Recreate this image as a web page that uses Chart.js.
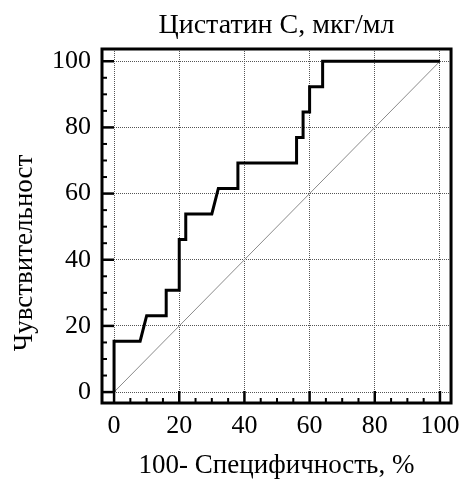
<!DOCTYPE html>
<html>
<head>
<meta charset="utf-8">
<script src="https://cdn.jsdelivr.net/npm/chart.js@4/dist/chart.umd.min.js"></script>
<style>
  html, body { margin: 0; padding: 0; background: #ffffff; }
  #wrap { width: 468px; height: 479px; }
</style>
</head>
<body>
<div id="wrap"><canvas id="c" width="468" height="479"></canvas></div>
<script>
// ---- data ----
const chartTitle = "Цистатин С, мкг/мл";
const xTitle = "100- Специфичность, %";
const yTitle = "Чувствительност";
// ROC curve vertices: 100 - specificity (%) and sensitivity (%)
const rocX = [0, 0, 8, 10, 16, 16, 20, 20, 22, 22, 30, 32, 38, 38, 56, 56, 58, 58, 60, 60, 64, 64, 100];
const rocY = [0, 15.38, 15.38, 23.08, 23.08, 30.77, 30.77, 46.15, 46.15, 53.85, 53.85, 61.54, 61.54, 69.23, 69.23, 76.92, 76.92, 84.62, 84.62, 92.31, 92.31, 100, 100];
// reference diagonal
const diagX = [0, 100];
const diagY = [0, 100];
// axis ticks
const majorTicks = [0, 20, 40, 60, 80, 100];
const minorStep = 5;

const FONT = "'Liberation Serif', 'Times New Roman', serif";
Chart.defaults.font.family = FONT;
Chart.defaults.color = '#000';

const toPts = (xs, ys) => xs.map((x, i) => ({ x: x, y: ys[i] }));

const framePlugin = {
  id: 'frameTicks',
  afterDatasetsDraw(chart) {
    const { ctx, chartArea: a, scales: { x, y } } = chart;
    ctx.save();
    ctx.strokeStyle = '#000';
    ctx.lineCap = 'butt';
    // inward ticks
    for (let v = 0; v <= 100; v += minorStep) {
      const major = majorTicks.includes(v);
      const len = major ? 12 : 5;
      ctx.lineWidth = major ? 2.5 : 2;
      const py = y.getPixelForValue(v);
      ctx.beginPath(); ctx.moveTo(a.left, py); ctx.lineTo(a.left + len, py); ctx.stroke();
      const px = x.getPixelForValue(v);
      ctx.beginPath(); ctx.moveTo(px, a.bottom); ctx.lineTo(px, a.bottom - len); ctx.stroke();
    }
    // frame
    ctx.lineWidth = 3;
    ctx.strokeRect(a.left, a.top, a.right - a.left, a.bottom - a.top);
    ctx.restore();
  }
};

new Chart(document.getElementById('c'), {
  type: 'line',
  data: {
    datasets: [
      {
        label: 'diag',
        data: toPts(diagX, diagY),
        borderColor: '#8a8a8a',
        borderWidth: 1,
        pointRadius: 0,
        fill: false,
        order: 2
      },
      {
        label: 'ROC',
        data: toPts(rocX, rocY),
        borderColor: '#000',
        borderWidth: 3,
        pointRadius: 0,
        fill: false,
        tension: 0,
        borderJoinStyle: 'miter',
        order: 1
      }
    ]
  },
  options: {
    responsive: false,
    animation: false,
    events: [],
    layout: { padding: { left: 0, right: 11, top: 0, bottom: 0 } },
    plugins: {
      legend: { display: false },
      tooltip: { enabled: false },
      title: {
        display: true,
        fullSize: false,
        text: chartTitle,
        color: '#000',
        font: { family: FONT, size: 28, weight: 'normal', lineHeight: 1.2 },
        padding: { top: 9.2, bottom: 6.2 }
      }
    },
    scales: {
      x: {
        type: 'linear',
        min: -3.7,
        max: 103.4,
        afterFit: s => { s.height = 76; },
        ticks: {
          stepSize: 20,
          includeBounds: false,
          padding: 8,
          maxRotation: 0,
          color: '#000',
          font: { family: FONT, size: 26 }
        },
        grid: { color: '#555', lineWidth: 1, drawTicks: false },
        border: { display: false, dash: [1, 1] },
        title: {
          display: true,
          text: xTitle,
          color: '#000',
          font: { family: FONT, size: 27, lineHeight: 1 },
          padding: { top: 0, bottom: 0 }
        }
      },
      y: {
        type: 'linear',
        min: -3.3,
        max: 103.7,
        afterFit: s => { s.width = 102; },
        ticks: {
          stepSize: 20,
          includeBounds: false,
          padding: 11,
          color: '#000',
          font: { family: FONT, size: 26 }
        },
        grid: { color: '#555', lineWidth: 1, drawTicks: false },
        border: { display: false, dash: [1, 1] },
        title: {
          display: true,
          text: yTitle + '\u00a0\u00a0\u00a0\u00a0\u00a0\u00a0\u00a0\u00a0',
          color: '#000',
          font: { family: FONT, size: 27, lineHeight: 1 },
          padding: { top: 11, bottom: 0 }
        }
      }
    }
  },
  plugins: [framePlugin]
});
</script>
</body>
</html>
